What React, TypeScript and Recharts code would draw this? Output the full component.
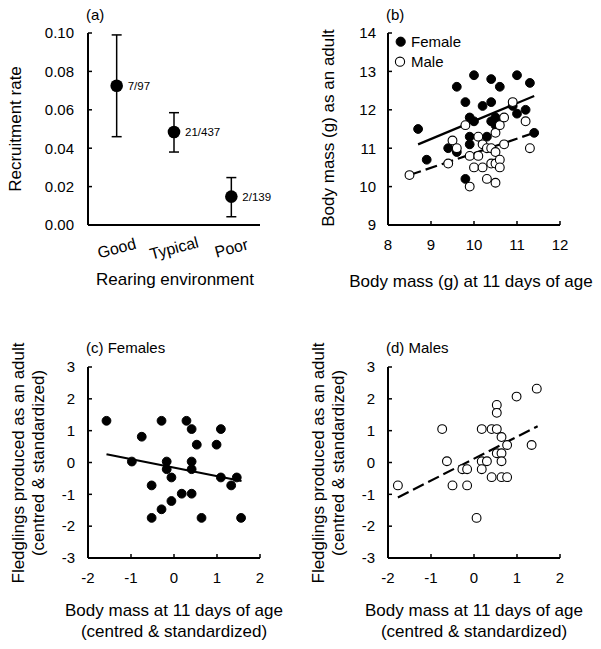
import React from 'react';
import { ScatterChart, Scatter, XAxis, YAxis, ErrorBar, ReferenceLine } from 'recharts';

const FONT = '"Liberation Sans", Arial, Helvetica, sans-serif';

// ---------- Panel (a) ----------
const envCategories = ['Good', 'Typical', 'Poor'];
const recruitRate = [0.0725, 0.0484, 0.0148];
const ciLower = [0.046, 0.038, 0.0043];
const ciUpper = [0.099, 0.0585, 0.0247];
const countLabels = ['7/97', '21/437', '2/139'];
const rateTicks = [0, 0.02, 0.04, 0.06, 0.08, 0.1];

// ---------- Panel (b) ----------
const femaleB_x = [8.7, 8.9, 9.4, 9.6, 9.6, 9.8, 9.8, 9.9, 9.9, 9.9, 10.0, 10.0, 10.2, 10.3, 10.4, 10.4, 10.4, 10.5, 10.5, 10.5, 10.6, 10.9, 11.0, 11.0, 11.2, 11.3, 11.4];
const femaleB_y = [11.5, 10.7, 11.0, 10.9, 12.6, 12.2, 10.2, 11.8, 11.3, 11.1, 11.7, 12.9, 12.1, 11.3, 12.8, 12.2, 11.7, 11.8, 11.7, 11.6, 12.6, 12.1, 12.9, 11.9, 12.0, 12.7, 11.4];
const maleB_x = [8.5, 9.4, 9.5, 9.6, 9.8, 9.9, 9.9, 10.0, 10.1, 10.1, 10.2, 10.2, 10.3, 10.3, 10.4, 10.4, 10.5, 10.5, 10.5, 10.5, 10.6, 10.6, 10.6, 10.7, 10.7, 10.9, 11.2, 11.3];
const maleB_y = [10.3, 10.6, 11.2, 11.0, 11.6, 10.8, 10.0, 10.5, 11.3, 10.8, 11.1, 10.5, 11.0, 10.2, 11.0, 10.6, 10.9, 10.6, 11.4, 10.1, 11.6, 10.7, 10.5, 11.8, 11.1, 12.2, 11.7, 11.0];
const femaleFitB_x = [8.7, 11.4];
const femaleFitB_y = [11.1, 12.36];
const maleFitB_x = [8.5, 11.4];
const maleFitB_y = [10.3, 11.4];
const bXTicks = [8, 9, 10, 11, 12];
const bYTicks = [9, 10, 11, 12, 13, 14];
const seriesNames = ['Female', 'Male'];

// ---------- Panel (c) ----------
const femaleC_x = [-1.57, -0.98, -0.75, -0.52, -0.52, -0.29, -0.29, -0.17, -0.17, -0.06, -0.06, 0.18, 0.29, 0.41, 0.41, 0.41, 0.41, 0.53, 0.64, 0.99, 1.09, 1.09, 1.33, 1.46, 1.56];
const femaleC_y = [1.31, 0.03, 0.81, -0.72, -1.74, 1.31, -1.47, 0.03, -0.21, -0.47, -1.21, -0.98, 1.31, 1.05, 0.03, -0.21, -0.98, 0.56, -1.74, 0.56, 1.05, -0.47, -0.72, -0.47, -1.74];
const femaleFitC_x = [-1.57, 1.57];
const femaleFitC_y = [0.26, -0.58];

// ---------- Panel (d) ----------
const maleD_x = [-1.77, -0.74, -0.63, -0.5, -0.27, -0.16, -0.16, 0.06, 0.18, 0.18, 0.18, 0.3, 0.41, 0.41, 0.53, 0.53, 0.53, 0.53, 0.64, 0.64, 0.64, 0.64, 0.77, 0.77, 0.99, 1.34, 1.46];
const maleD_y = [-0.72, 1.05, 0.04, -0.72, -0.21, -0.21, -0.72, -1.74, 1.05, 0.04, -0.21, 0.04, 1.05, -0.46, 1.05, 1.81, 1.56, 0.29, 0.8, 0.29, 0.04, -0.46, 0.55, -0.46, 2.07, 0.55, 2.32];
const maleFitD_x = [-1.77, 1.48];
const maleFitD_y = [-1.1, 1.14];
const cdXTicks = [-2, -1, 0, 1, 2];
const cdYTicks = [-3, -2, -1, 0, 1, 2, 3];

// ---------- derived tables ----------
const zip = (xs: number[], ys: number[]) => xs.map((x, i) => ({ x, y: ys[i] }));
const panelA = envCategories.map((env, i) => ({
  env,
  rate: recruitRate[i],
  err: [recruitRate[i] - ciLower[i], ciUpper[i] - recruitRate[i]],
  label: countLabels[i],
}));
const femaleB = zip(femaleB_x, femaleB_y);
const maleB = zip(maleB_x, maleB_y);
const femaleFitB = zip(femaleFitB_x, femaleFitB_y);
const maleFitB = zip(maleFitB_x, maleFitB_y);
const femaleC = zip(femaleC_x, femaleC_y);
const femaleFitC = zip(femaleFitC_x, femaleFitC_y);
const maleD = zip(maleD_x, maleD_y);
const maleFitD = zip(maleFitD_x, maleFitD_y);

// ---------- style helpers ----------
const axisLine = { stroke: '#000', strokeWidth: 2 };
const tickLine = { stroke: '#000', strokeWidth: 1.5 };
const tickStyle = { fontSize: 15, fill: '#000', fontFamily: FONT };

const FilledDot = (p: any) => <circle cx={p.cx} cy={p.cy} r={4.4} fill="#000" stroke="#000" strokeWidth={1} />;
const OpenDot = (p: any) => <circle cx={p.cx} cy={p.cy} r={4.4} fill="#fff" stroke="#000" strokeWidth={1.1} />;

const BigDot = (p: any) => (
  <g>
    <circle cx={p.cx} cy={p.cy} r={6.3} fill="#000" />
    <text x={p.cx + 11} y={p.cy} dy="0.35em" fontSize={11.5} fontFamily={FONT} fill="#000">
      {p.payload.label}
    </text>
  </g>
);

const CatTick = (p: any) => (
  <g transform={`translate(${p.x},${p.y + 15}) rotate(-15)`}>
    <text x={0} y={0} dy="0.35em" textAnchor="middle" fontSize={16} fontFamily={FONT} fill="#000">
      {p.payload.value}
    </text>
  </g>
);

const Txt = ({ x, y, size = 17, rotate = 0, lh = 20, children }: any) => (
  <div
    style={{
      position: 'absolute',
      left: x,
      top: y,
      transform: `translate(-50%,-50%) rotate(${rotate}deg)`,
      fontSize: size,
      lineHeight: `${lh}px`,
      whiteSpace: 'nowrap',
      textAlign: 'center',
      fontFamily: FONT,
      color: '#000',
    }}
  >
    {children}
  </div>
);

const LeftTxt = ({ x, y, size = 15, children }: any) => (
  <div
    style={{
      position: 'absolute',
      left: x,
      top: y,
      transform: 'translateY(-50%)',
      fontSize: size,
      lineHeight: '18px',
      whiteSpace: 'nowrap',
      fontFamily: FONT,
      color: '#000',
    }}
  >
    {children}
  </div>
);

const box = (left: number, top: number): React.CSSProperties => ({ position: 'absolute', left, top });

export default function App() {
  return (
    <div style={{ position: 'absolute', left: 0, top: 0, width: 601, height: 649, background: '#fff', overflow: 'hidden', fontFamily: FONT }}>
      {/* Panel (a) */}
      <div style={box(0, 0)}>
        <ScatterChart width={300} height={300} margin={{ top: 33, right: 40, left: 0, bottom: 0 }}>
          <XAxis type="category" dataKey="env" axisLine={axisLine} tickLine={false} tick={<CatTick />} height={75} interval={0} />
          <YAxis
            type="number"
            dataKey="rate"
            domain={[0, 0.1]}
            ticks={rateTicks}
            tickFormatter={(v: number) => v.toFixed(2)}
            width={88}
            axisLine={axisLine}
            tickLine={tickLine}
            tickSize={-4}
            tickMargin={18}
            tick={tickStyle}
            interval={0}
          />
          <Scatter data={panelA} dataKey="rate" shape={<BigDot />} isAnimationActive={false}>
            <ErrorBar dataKey="err" direction="y" width={5} stroke="#000" strokeWidth={1.5} />
          </Scatter>
        </ScatterChart>
      </div>

      {/* Panel (b) */}
      <div style={box(300, 0)}>
        <ScatterChart width={300} height={300} margin={{ top: 33, right: 40, left: 0, bottom: 0 }}>
          <XAxis type="number" dataKey="x" domain={[8, 12]} ticks={bXTicks} height={75} axisLine={axisLine} tickLine={tickLine} tickSize={-4} tickMargin={18} tick={tickStyle} interval={0} />
          <YAxis type="number" dataKey="y" domain={[9, 14]} ticks={bYTicks} width={88} axisLine={axisLine} tickLine={tickLine} tickSize={-4} tickMargin={16} tick={tickStyle} interval={0} />
          <ReferenceLine segment={femaleFitB} stroke="#000" strokeWidth={2.2} />
          <ReferenceLine segment={maleFitB} stroke="#000" strokeWidth={2.2} strokeDasharray="12 5" />
          <Scatter name={seriesNames[0]} data={femaleB} shape={<FilledDot />} isAnimationActive={false} />
          <Scatter name={seriesNames[1]} data={maleB} shape={<OpenDot />} isAnimationActive={false} />
        </ScatterChart>
        {/* legend */}
        <svg width={20} height={40} style={{ position: 'absolute', left: 90, top: 32 }}>
          <circle cx={10.7} cy={9.7} r={4.6} fill="#000" stroke="#000" />
          <circle cx={10} cy={29.7} r={4.6} fill="#fff" stroke="#000" strokeWidth={1.1} />
        </svg>
      </div>
      <LeftTxt x={411} y={41.5} size={15}>{seriesNames[0]}</LeftTxt>
      <LeftTxt x={411} y={61.5} size={15}>{seriesNames[1]}</LeftTxt>

      {/* Panel (c) */}
      <div style={box(0, 300)}>
        <ScatterChart width={300} height={300} margin={{ top: 67, right: 40, left: 0, bottom: 0 }}>
          <XAxis type="number" dataKey="x" domain={[-2, 2]} ticks={cdXTicks} height={42} axisLine={axisLine} tickLine={tickLine} tickSize={-4} tickMargin={18} tick={tickStyle} interval={0} />
          <YAxis type="number" dataKey="y" domain={[-3, 3]} ticks={cdYTicks} width={88} axisLine={axisLine} tickLine={tickLine} tickSize={-4} tickMargin={17} tick={tickStyle} interval={0} />
          <ReferenceLine segment={femaleFitC} stroke="#000" strokeWidth={2.2} />
          <Scatter data={femaleC} shape={<FilledDot />} isAnimationActive={false} />
        </ScatterChart>
      </div>

      {/* Panel (d) */}
      <div style={box(300, 300)}>
        <ScatterChart width={300} height={300} margin={{ top: 67, right: 40, left: 0, bottom: 0 }}>
          <XAxis type="number" dataKey="x" domain={[-2, 2]} ticks={cdXTicks} height={42} axisLine={axisLine} tickLine={tickLine} tickSize={-4} tickMargin={18} tick={tickStyle} interval={0} />
          <YAxis type="number" dataKey="y" domain={[-3, 3]} ticks={cdYTicks} width={88} axisLine={axisLine} tickLine={tickLine} tickSize={-4} tickMargin={17} tick={tickStyle} interval={0} />
          <ReferenceLine segment={maleFitD} stroke="#000" strokeWidth={2.2} strokeDasharray="12 5" />
          <Scatter data={maleD} shape={<OpenDot />} isAnimationActive={false} />
        </ScatterChart>
      </div>

      {/* Titles and labels */}
      <LeftTxt x={86} y={15} size={15}>(a)</LeftTxt>
      <LeftTxt x={386} y={15} size={15}>(b)</LeftTxt>
      <LeftTxt x={86} y={348} size={15}>(c) Females</LeftTxt>
      <LeftTxt x={386} y={348} size={15}>(d) Males</LeftTxt>

      <Txt x={16} y={129} rotate={-90}>Recruitment rate</Txt>
      <Txt x={175} y={280}>Rearing environment</Txt>

      <Txt x={329} y={128} rotate={-90}>Body mass (g) as an adult</Txt>
      <Txt x={471} y={282}>Body mass (g) at 11 days of age</Txt>

      <Txt x={29} y={463} rotate={-90} lh={20}>
        Fledglings produced as an adult<br />(centred &amp; standardized)
      </Txt>
      <Txt x={174} y={621} lh={21}>
        Body mass at 11 days of age<br />(centred &amp; standardized)
      </Txt>

      <Txt x={329} y={463} rotate={-90} lh={20}>
        Fledglings produced as an adult<br />(centred &amp; standardized)
      </Txt>
      <Txt x={474} y={621} lh={21}>
        Body mass at 11 days of age<br />(centred &amp; standardized)
      </Txt>
    </div>
  );
}
